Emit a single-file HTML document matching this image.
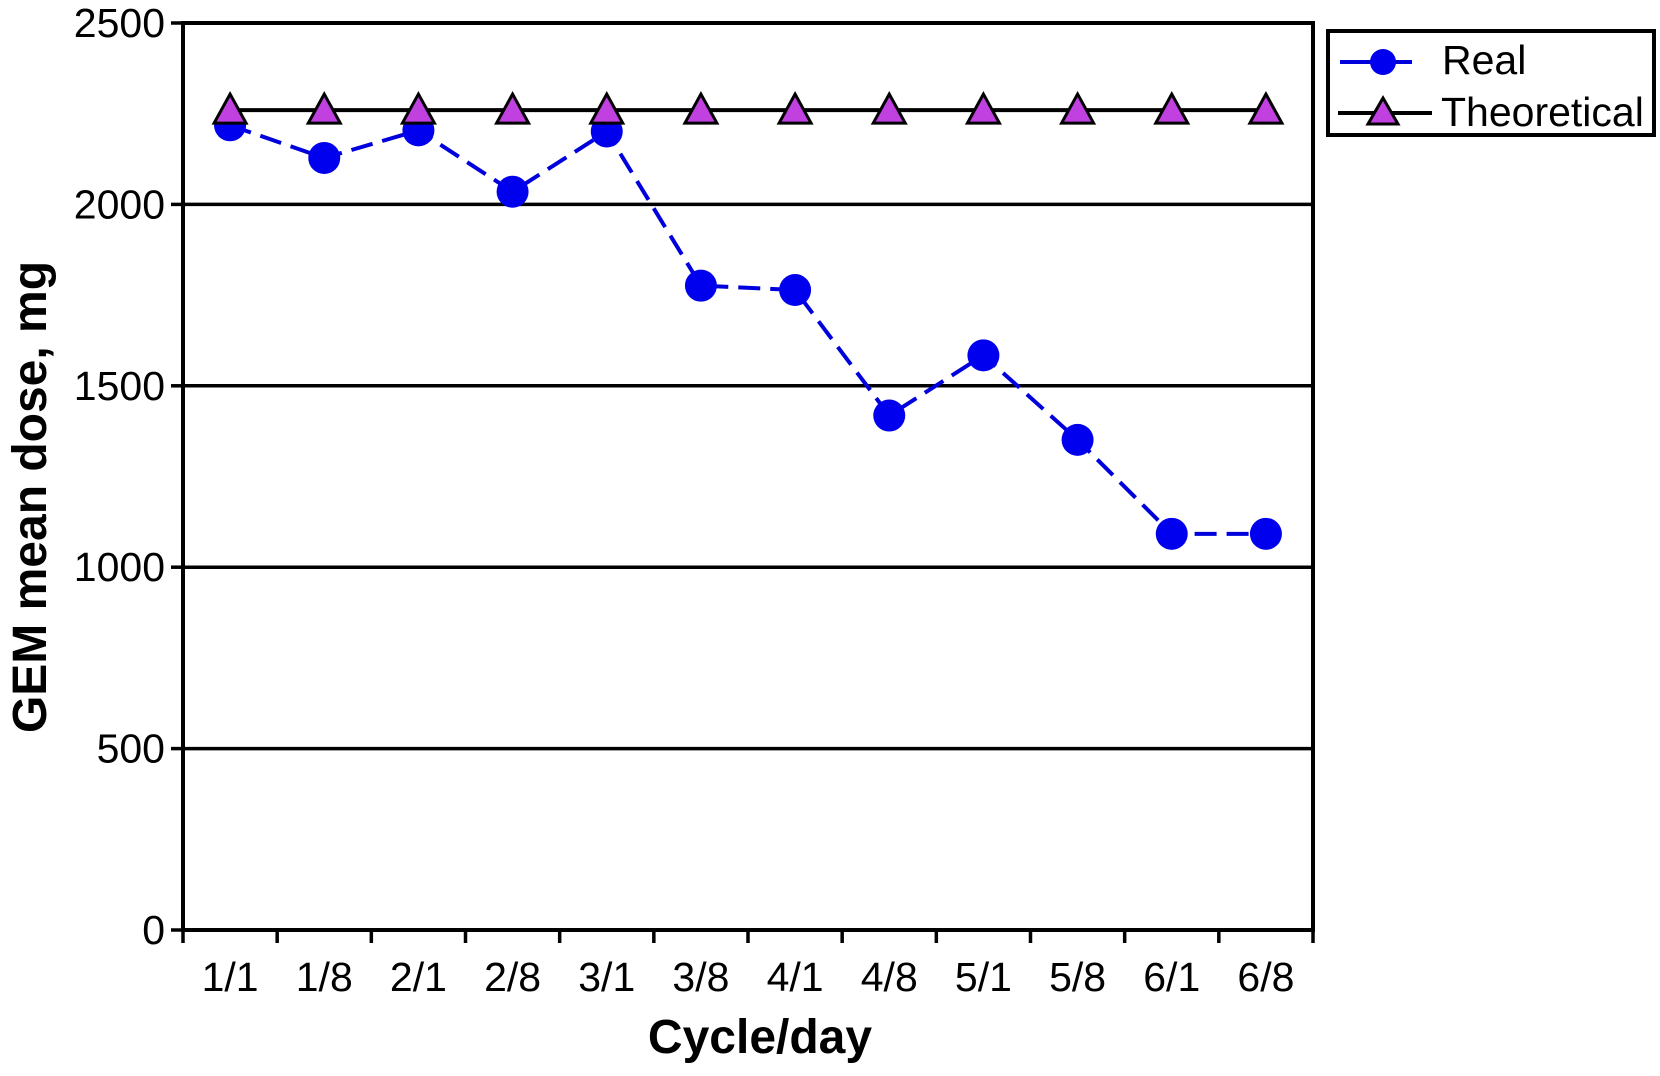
<!DOCTYPE html>
<html><head><meta charset="utf-8"><style>
html,body{margin:0;padding:0;background:#fff;}
svg{display:block;font-family:"Liberation Sans",Arial,sans-serif;}
</style></head><body>
<svg id="chart" width="1660" height="1076" viewBox="0 0 1660 1076">
<g id="grid"></g>
<g id="axes"></g>
<g id="series"></g>
<text x="760" y="1053" font-size="48" font-weight="bold" text-anchor="middle">Cycle/day</text>
<text transform="translate(46,497) rotate(-90)" font-size="48" font-weight="bold" text-anchor="middle">GEM mean dose, mg</text>
<g>
<rect x="1328" y="31" width="326" height="104" fill="#fff" stroke="#000" stroke-width="4"/>
<g>
<line x1="1340" y1="62" x2="1412" y2="62" stroke="#0000dd" stroke-width="4"/>
<circle cx="1383" cy="62" r="13" fill="#0000ee"/>
<text x="1442" y="74" font-size="41">Real</text>
</g>
<g>
<line x1="1338" y1="113" x2="1432" y2="113" stroke="#000" stroke-width="4"/>
<polygon points="1383,98 1398,124 1368,124" fill="#c040e0" stroke="#000" stroke-width="3"/>
<text x="1441" y="126" font-size="41">Theoretical</text>
</g>
</g>
</svg>
<script>
const categories = ["1/1","1/8","2/1","2/8","3/1","3/8","4/1","4/8","5/1","5/8","6/1","6/8"];
const realValues = [2218,2128,2204,2035,2201,1776,1764,1418,1584,1351,1092,1092];
const theoreticalValues = [2260,2260,2260,2260,2260,2260,2260,2260,2260,2260,2260,2260];
const yTicks = [0,500,1000,1500,2000,2500];

const L=183,R=1313,T=23,B=930,YMAX=2500;
const NS="http://www.w3.org/2000/svg";
const step=(R-L)/categories.length;
function xPos(i){return L+step*(i+0.5);}
function yPos(v){return B-(v/YMAX)*(B-T);}
function mk(tag,attrs,parent){const e=document.createElementNS(NS,tag);for(const k in attrs)e.setAttribute(k,attrs[k]);parent.appendChild(e);return e;}
const grid=document.getElementById('grid'),axes=document.getElementById('axes'),series=document.getElementById('series');

yTicks.forEach(v=>{
  const y=yPos(v);
  if(v>0){
    const g=mk('line',{x1:L,y1:y,x2:R,y2:y,stroke:'#000','stroke-width':3.5},grid);
    
    
  }
  const t=mk('line',{x1:L-12,y1:y,x2:L,y2:y,stroke:'#000','stroke-width':3.5},axes);
  
  
  const lb=mk('text',{x:L-18,y:y+14,'font-size':41,'text-anchor':'end'},axes);
  lb.textContent=v;
  
  
});
for(let i=0;i<=categories.length;i++){
  const x=L+step*i;
  const t=mk('line',{x1:x,y1:B,x2:x,y2:B+13,stroke:'#000','stroke-width':3.5},axes);
  
  
}
categories.forEach((c,i)=>{
  const lb=mk('text',{x:xPos(i),y:991,'font-size':41,'text-anchor':'middle'},axes);
  lb.textContent=c;
  
  
});
const frame=mk('rect',{x:L,y:T,width:R-L,height:B-T,fill:'none',stroke:'#000','stroke-width':4},axes);



const tl=mk('polyline',{points:theoreticalValues.map((v,i)=>xPos(i)+','+yPos(v)).join(' '),fill:'none',stroke:'#000','stroke-width':4},series);


const rl=mk('polyline',{points:realValues.map((v,i)=>xPos(i)+','+yPos(v)).join(' '),fill:'none',stroke:'#0000dd','stroke-width':4,'stroke-dasharray':'22 10'},series);


realValues.forEach((v,i)=>{
  const c=mk('circle',{cx:xPos(i),cy:yPos(v),r:16,fill:'#0000ee'},series);
  
  
});
theoreticalValues.forEach((v,i)=>{
  const x=xPos(i),y=yPos(v);
  const p=mk('polygon',{points:`${x},${y-16} ${x+16},${y+13} ${x-16},${y+13}`,fill:'#c040e0',stroke:'#000','stroke-width':3},series);
  
  
});
</script>
</body></html>
